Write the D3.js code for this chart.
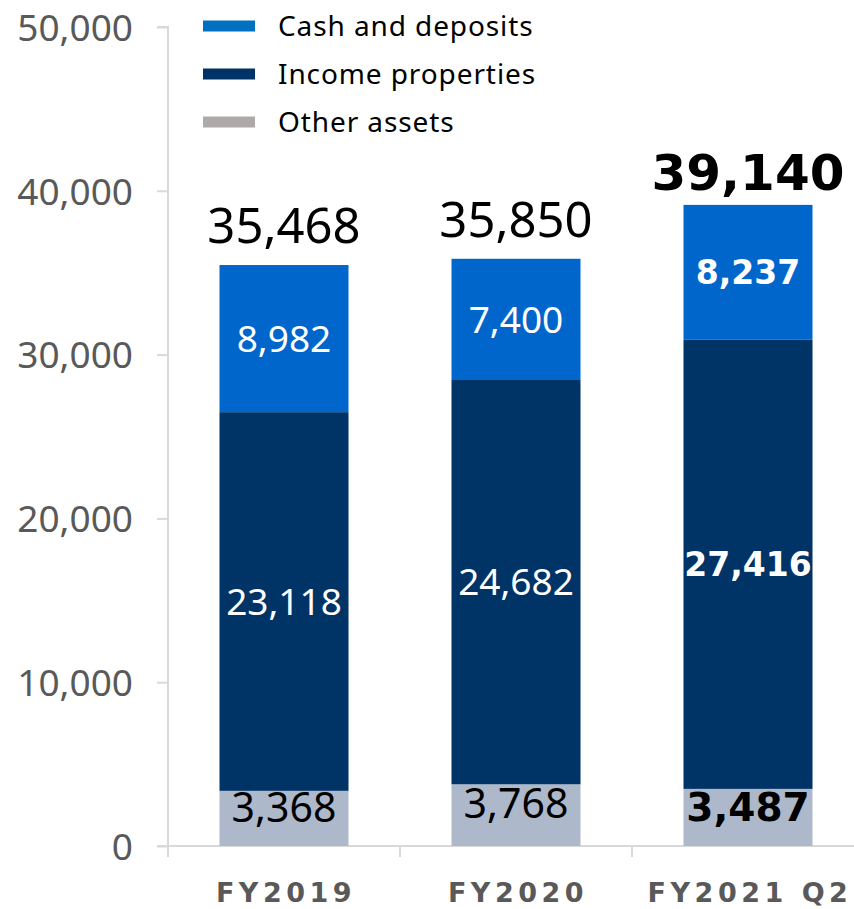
<!DOCTYPE html>
<html>
<head>
<meta charset="utf-8">
<script src="https://cdn.jsdelivr.net/npm/d3@7/dist/d3.min.js"></script>
<style>
  html, body { margin: 0; padding: 0; background: #ffffff; }
  svg { display: block; font-family: "Noto Sans", "DejaVu Sans", sans-serif; }
  .bold { font-family: "DejaVu Sans", Verdana, sans-serif; font-weight: bold; }
</style>
</head>
<body>
<svg id="chart" width="854" height="909"></svg>
<script>
// Asset breakdown per fiscal period (values in millions)
const categories = ["FY2019", "FY2020", "FY2021 Q2"];
const otherAssets = [3368, 3768, 3487];
const incomeProperties = [23118, 24682, 27416];
const cashDeposits = [8982, 7400, 8237];
const totals = [35468, 35850, 39140];
const emphasised = [false, false, true];
const yTicks = [0, 10000, 20000, 30000, 40000, 50000];

const seriesNames = ["Other assets", "Income properties", "Cash and deposits"];
const legendOrder = ["Cash and deposits", "Income properties", "Other assets"];

const barColor = {
  "Cash and deposits": "#0066cc",
  "Income properties": "#003366",
  "Other assets": "#adb9ca"
};
const legendColor = {
  "Cash and deposits": "#0070c0",
  "Income properties": "#003366",
  "Other assets": "#aeaaaa"
};
const labelColor = {
  "Cash and deposits": "#ffffff",
  "Income properties": "#ffffff",
  "Other assets": "#000000"
};
// font sizes: [regular, bold] and vertical shift of the label baseline
const labelStyle = {
  "Cash and deposits": { size: [37, 33], dy: "0.357em" },
  "Income properties": { size: [37, 33], dy: "0.357em" },
  "Other assets": { size: [41, 39], dy: "0.08em" }
};

const rows = categories.map((c, i) => ({
  category: c,
  "Other assets": otherAssets[i],
  "Income properties": incomeProperties[i],
  "Cash and deposits": cashDeposits[i],
  total: totals[i],
  bold: emphasised[i]
}));

const svg = d3.select("#chart");
const axisX = 168, baseY = 846, topY = 27;

const y = d3.scaleLinear().domain([0, 50000]).range([baseY, topY]);
const x = d3.scaleBand().domain(categories).range([axisX, 864])
  .paddingInner(0.444).paddingOuter(0.222);

const stacked = d3.stack().keys(seriesNames)(rows);
const fmt = d3.format(",");
const gridColor = "#d9d9d9";

// Y axis
const yAxis = svg.append("g")
  .attr("transform", `translate(${axisX},0)`)
  .call(d3.axisLeft(y).tickValues(yTicks).tickSize(11).tickPadding(24).tickFormat(fmt));
yAxis.select(".domain").attr("stroke", gridColor).attr("stroke-width", 2)
  .attr("d", `M-11,${topY}H0V${baseY + 11}`);
yAxis.selectAll(".tick line").attr("stroke", gridColor).attr("stroke-width", 2);
yAxis.selectAll(".tick text")
  .attr("fill", "#595959")
  .attr("font-family", "Noto Sans, DejaVu Sans, sans-serif")
  .style("font-size", "37px")
  .attr("dy", "0.357em");

// X axis baseline with boundary ticks between categories
svg.append("line")
  .attr("x1", 157).attr("x2", 854)
  .attr("y1", baseY).attr("y2", baseY)
  .attr("stroke", gridColor).attr("stroke-width", 2);
const gap = (x.step() - x.bandwidth()) / 2;
svg.append("g").selectAll("line")
  .data(categories.map(c => x(c) - gap))
  .join("line")
  .attr("x1", d => d).attr("x2", d => d)
  .attr("y1", baseY).attr("y2", baseY + 11)
  .attr("stroke", gridColor).attr("stroke-width", 2);

// Category labels
svg.append("g").selectAll("text")
  .data(categories)
  .join("text")
  .attr("class", "bold")
  .attr("x", d => x(d) + x.bandwidth() / 2 + 2)
  .attr("y", 902)
  .attr("text-anchor", "middle")
  .attr("fill", "#595959")
  .style("font-size", "27px")
  .style("letter-spacing", "4.5px")
  .text(d => d);

// Stacked bars
const layers = svg.append("g").selectAll("g")
  .data(stacked)
  .join("g")
  .attr("fill", d => barColor[d.key]);
layers.selectAll("rect")
  .data(d => d)
  .join("rect")
  .attr("x", d => x(d.data.category))
  .attr("width", x.bandwidth())
  .attr("y", d => y(d[1]))
  .attr("height", d => y(d[0]) - y(d[1]));

// Segment value labels
const segLabels = svg.append("g");
stacked.forEach(layer => {
  const st = labelStyle[layer.key];
  segLabels.selectAll(null)
    .data(layer)
    .join("text")
    .attr("class", d => d.data.bold ? "bold" : null)
    .attr("x", d => x(d.data.category) + x.bandwidth() / 2)
    .attr("y", d => (y(d[0]) + y(d[1])) / 2)
    .attr("dy", st.dy)
    .attr("text-anchor", "middle")
    .attr("fill", labelColor[layer.key])
    .style("font-size", d => st.size[d.data.bold ? 1 : 0] + "px")
    .text(d => fmt(d.data[layer.key]));
});

// Totals above each bar
svg.append("g").selectAll("text")
  .data(rows)
  .join("text")
  .attr("class", d => d.bold ? "bold" : null)
  .attr("x", d => x(d.category) + x.bandwidth() / 2)
  .attr("y", d => y(d.total) - (d.bold ? 15 : 22))
  .attr("text-anchor", "middle")
  .attr("fill", "#000000")
  .style("font-size", d => d.bold ? "50px" : "49px")
  .text(d => fmt(d.total));

// Legend
const legend = svg.append("g").selectAll("g")
  .data(legendOrder)
  .join("g")
  .attr("transform", (d, i) => `translate(203,${26 + i * 48})`);
legend.append("rect")
  .attr("x", 0).attr("y", -5.5)
  .attr("width", 52).attr("height", 11)
  .attr("fill", d => legendColor[d]);
legend.append("text")
  .attr("x", 75).attr("y", 0).attr("dy", "0.357em")
  .attr("fill", "#000000")
  .style("font-size", "28px")
  .style("letter-spacing", "0.9px")
  .text(d => d);
</script>
</body>
</html>
